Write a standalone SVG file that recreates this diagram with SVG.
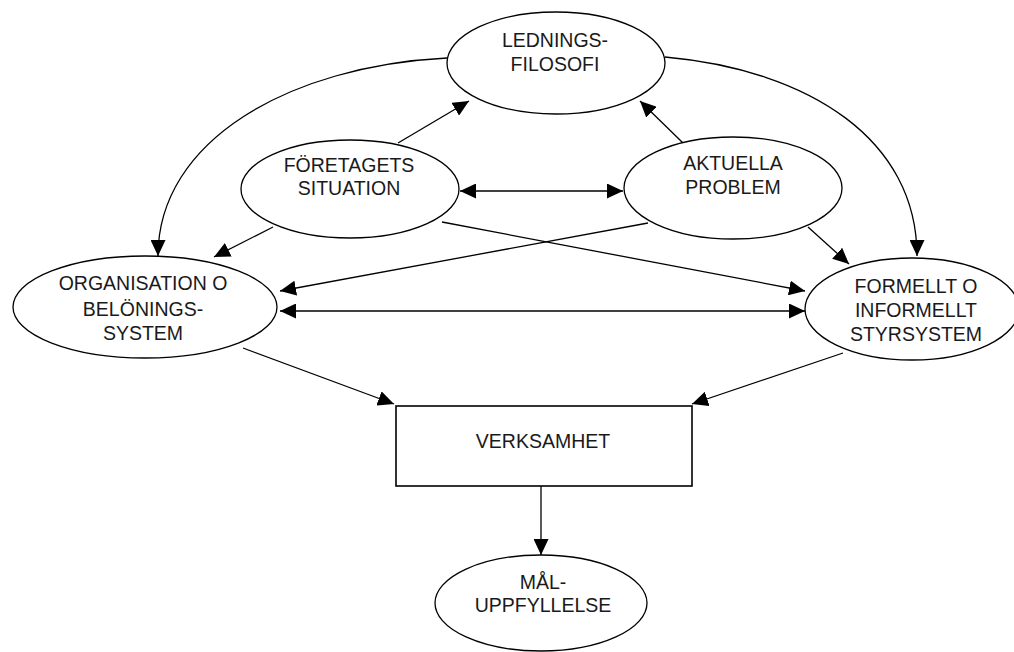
<svg xmlns="http://www.w3.org/2000/svg" width="1014" height="652" viewBox="0 0 1014 652">
  <style>
    .node { fill: #ffffff; stroke: #000000; stroke-width: 1.3; }
    .box { fill: #ffffff; stroke: #000000; stroke-width: 1.6; }
    .lbl { font-family: "Liberation Sans", Arial, sans-serif; font-size: 19.5px; fill: #1a1a1a; text-anchor: middle; }
    .edge { fill: none; stroke: #000000; stroke-width: 1.3; }
  </style>
  <defs>
    <marker id="arrow" markerUnits="userSpaceOnUse" markerWidth="17" markerHeight="15" refX="16" refY="7.5" orient="auto-start-reverse">
      <path d="M0,0 L16,7.5 L0,15 Z" fill="#000000"/>
    </marker>
  </defs>

  <g id="connectors">
    <!-- from LEDNINGSFILOSOFI down the sides -->
    <path class="edge" d="M447,58 C290,66 158,140 158,256" marker-end="url(#arrow)"/>
    <path class="edge" d="M665,57 C810,70 917,140 917,256" marker-end="url(#arrow)"/>
    <!-- up to LEDNINGSFILOSOFI -->
    <line class="edge" x1="398" y1="143" x2="469" y2="101" marker-end="url(#arrow)"/>
    <line class="edge" x1="683" y1="143" x2="640" y2="101" marker-end="url(#arrow)"/>
    <!-- situation <-> problem -->
    <line class="edge" x1="460" y1="191" x2="623" y2="191" marker-start="url(#arrow)" marker-end="url(#arrow)"/>
    <!-- towards the two systems -->
    <line class="edge" x1="273" y1="227" x2="214" y2="257" marker-end="url(#arrow)"/>
    <line class="edge" x1="808" y1="227" x2="849" y2="264" marker-end="url(#arrow)"/>
    <line class="edge" x1="442" y1="222" x2="805" y2="291" marker-end="url(#arrow)"/>
    <line class="edge" x1="648" y1="223" x2="280" y2="291" marker-end="url(#arrow)"/>
    <!-- organisation <-> styrsystem -->
    <line class="edge" x1="280" y1="311" x2="805" y2="311" marker-start="url(#arrow)" marker-end="url(#arrow)"/>
    <!-- into VERKSAMHET -->
    <line class="edge" x1="243" y1="348" x2="394" y2="404" marker-end="url(#arrow)"/>
    <line class="edge" x1="843" y1="353" x2="692" y2="404" marker-end="url(#arrow)"/>
    <!-- VERKSAMHET to MÅLUPPFYLLELSE -->
    <line class="edge" x1="541" y1="486" x2="541" y2="555" marker-end="url(#arrow)"/>
  </g>

  <g id="ledningsfilosofi">
    <ellipse class="node" cx="556" cy="63" rx="109" ry="51"/>
    <text class="lbl" x="555" y="47">LEDNINGS-</text>
    <text class="lbl" x="555" y="71">FILOSOFI</text>
  </g>

  <g id="foretagets-situation">
    <ellipse class="node" cx="350" cy="189" rx="109" ry="49"/>
    <text class="lbl" x="349" y="172">FÖRETAGETS</text>
    <text class="lbl" x="349" y="195">SITUATION</text>
  </g>

  <g id="aktuella-problem">
    <ellipse class="node" cx="733" cy="188" rx="109" ry="51"/>
    <text class="lbl" x="733" y="170">AKTUELLA</text>
    <text class="lbl" x="733" y="194">PROBLEM</text>
  </g>

  <g id="organisation">
    <ellipse class="node" cx="145" cy="307" rx="132" ry="51"/>
    <text class="lbl" x="143" y="290">ORGANISATION O</text>
    <text class="lbl" x="143" y="316">BELÖNINGS-</text>
    <text class="lbl" x="143" y="340">SYSTEM</text>
  </g>

  <g id="styrsystem">
    <ellipse class="node" cx="912" cy="309" rx="107" ry="51"/>
    <text class="lbl" x="916" y="293">FORMELLT O</text>
    <text class="lbl" x="916" y="317">INFORMELLT</text>
    <text class="lbl" x="916" y="341">STYRSYSTEM</text>
  </g>

  <g id="verksamhet">
    <rect class="box" x="396" y="406" width="296" height="80"/>
    <text class="lbl" x="543" y="448">VERKSAMHET</text>
  </g>

  <g id="maluppfyllelse">
    <ellipse class="node" cx="541" cy="603" rx="106" ry="48"/>
    <text class="lbl" x="543" y="589">MÅL-</text>
    <text class="lbl" x="543" y="612">UPPFYLLELSE</text>
  </g>
</svg>
